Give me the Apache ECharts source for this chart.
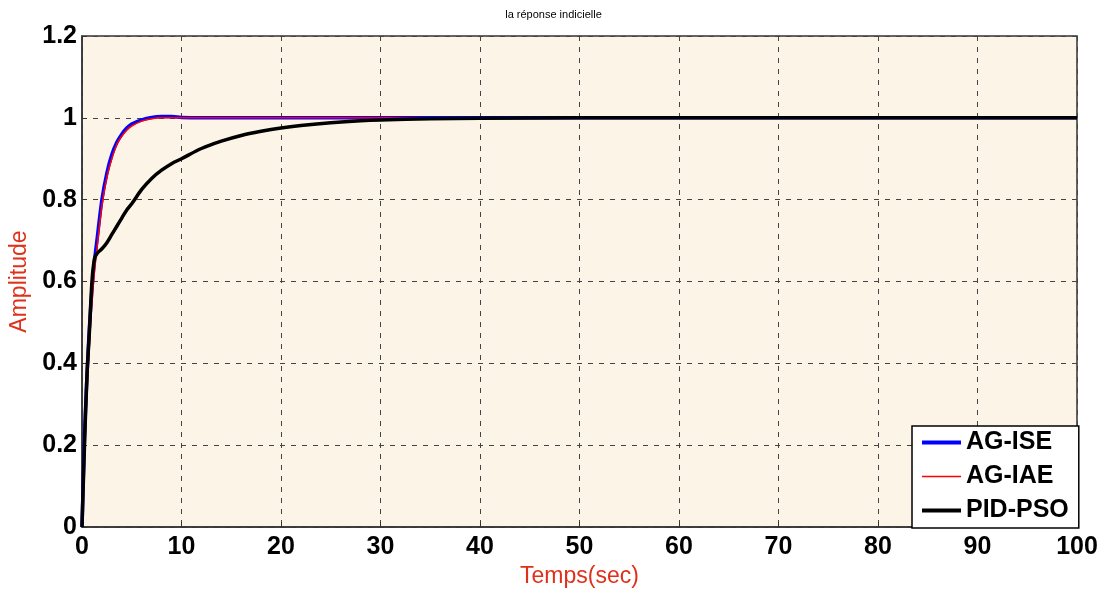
<!DOCTYPE html>
<html>
<head>
<meta charset="utf-8">
<script src="https://cdn.jsdelivr.net/npm/echarts@6/dist/echarts.min.js"></script>
<style>html,body{margin:0;padding:0;background:#fff}#c{width:1107px;height:590px}</style>
</head>
<body>
<div id="c"></div>
<script>
const titleText = 'la réponse indicielle';
const xName = 'Temps(sec)';
const yName = 'Amplitude';
const seriesNames = ['AG-ISE', 'AG-IAE', 'PID-PSO'];
const time = [0,0.25,0.5,0.75,1,1.25,1.5,2,2.5,3,3.5,4,4.5,5,6,7,8,9,10,12,14,16,18,20,22,25,28,30,35,40,50,60,70,80,90,100];
const agIse = [0,0.22,0.37,0.49,0.58,0.65,0.70,0.80,0.865,0.91,0.94,0.96,0.975,0.985,0.995,1.001,1.003,1.003,1.001,1.0,1.0,1.0,1.0,1.0,1.0,1.0,1.0,1.0,1.0,1.0,1.0,1.0,1.0,1.0,1.0,1.0];
const agIae = [0,0.18,0.33,0.45,0.55,0.625,0.68,0.785,0.855,0.90,0.935,0.955,0.97,0.98,0.992,0.998,1.0,1.0,1.0,1.0,1.0,1.0,1.0,1.0,1.0,1.0,1.0,1.0,1.0,1.0,1.0,1.0,1.0,1.0,1.0,1.0];
const pidPso = [0,0.20,0.37,0.48,0.60,0.655,0.668,0.68,0.695,0.715,0.735,0.755,0.775,0.79,0.825,0.852,0.872,0.888,0.90,0.925,0.943,0.957,0.967,0.975,0.981,0.988,0.993,0.995,0.998,0.999,1.0,1.0,1.0,1.0,1.0,1.0];
const xTicks = [0,10,20,30,40,50,60,70,80,90,100];
const yTicks = [0,0.2,0.4,0.6,0.8,1,1.2];

const pair = (vals) => time.map((t, i) => [t, vals[i]]);
const chart = echarts.init(document.getElementById('c'));
const gridLine = {show: true, lineStyle: {color: '#444', type: [5, 6], width: 1}};
const labelFont = {fontFamily: 'Liberation Sans', fontSize: 25, fontWeight: 'bold', color: '#000'};
chart.setOption({
  animation: false,
  backgroundColor: '#fff',
  title: {text: titleText, left: 'center', top: 4,
    textStyle: {fontFamily: 'Liberation Sans', fontSize: 11, fontWeight: 'normal', color: '#000'}},
  grid: {left: 82, top: 36, right: 30, bottom: 63, show: true, containLabel: false, outerBoundsMode: 'none',
    backgroundColor: '#FDF4E8', borderColor: '#333', borderWidth: 1.5},
  legend: {
    orient: 'vertical', left: 912, top: 426,
    backgroundColor: '#fff', borderColor: '#000', borderWidth: 1.5, borderRadius: 0,
    padding: [4, 10, 5, 8], itemGap: 9, itemWidth: 39, itemHeight: 14,
    itemStyle: {opacity: 0},
    data: [
      {name: seriesNames[0], lineStyle: {width: 4, color: '#0000FF'}},
      {name: seriesNames[1], lineStyle: {width: 1.5, color: '#FF0000'}},
      {name: seriesNames[2], lineStyle: {width: 4, color: '#000000'}}
    ],
    textStyle: {fontFamily: 'Liberation Sans', fontSize: 25, fontWeight: 'bold', color: '#000'}
  },
  xAxis: {
    type: 'value', min: 0, max: 100, interval: 10,
    name: xName, nameLocation: 'middle', nameGap: 32,
    nameTextStyle: {fontFamily: 'Liberation Sans', fontSize: 23, color: '#E0301A'},
    axisLine: {show: true, lineStyle: {color: '#333', width: 1.5}},
    axisTick: {show: true, inside: true, length: 5, lineStyle: {color: '#333'}},
    axisLabel: Object.assign({}, labelFont, {margin: 8,
      formatter: v => xTicks.includes(v) ? String(v) : ''}),
    splitLine: gridLine
  },
  yAxis: {
    type: 'value', min: 0, max: 1.2, interval: 0.2,
    name: yName, nameLocation: 'middle', nameGap: 49, nameRotate: 90,
    nameTextStyle: {fontFamily: 'Liberation Sans', fontSize: 23, color: '#E0301A'},
    axisLine: {show: true, lineStyle: {color: '#333', width: 1.5}},
    axisTick: {show: true, inside: true, length: 5, lineStyle: {color: '#333'}},
    axisLabel: Object.assign({}, labelFont, {margin: 5,
      formatter: v => { const t = yTicks.find(y => Math.abs(y - v) < 1e-9); return t === undefined ? '' : String(+t.toFixed(1)); }}),
    splitLine: gridLine
  },
  series: [
    {name: seriesNames[0], type: 'line', data: pair(agIse), symbol: 'none', smooth: 0.3,
      lineStyle: {color: '#0000FF', width: 3.5}, itemStyle: {color: '#0000FF'}, z: 2},
    {name: seriesNames[1], type: 'line', data: pair(agIae), symbol: 'none', smooth: 0.3,
      lineStyle: {color: '#FF0000', width: 1.5}, itemStyle: {color: '#FF0000'}, z: 3},
    {name: seriesNames[2], type: 'line', data: pair(pidPso), symbol: 'none', smooth: 0.3,
      lineStyle: {color: '#000000', width: 3.5}, itemStyle: {color: '#000000'}, z: 4}
  ]
});
</script>
</body>
</html>
